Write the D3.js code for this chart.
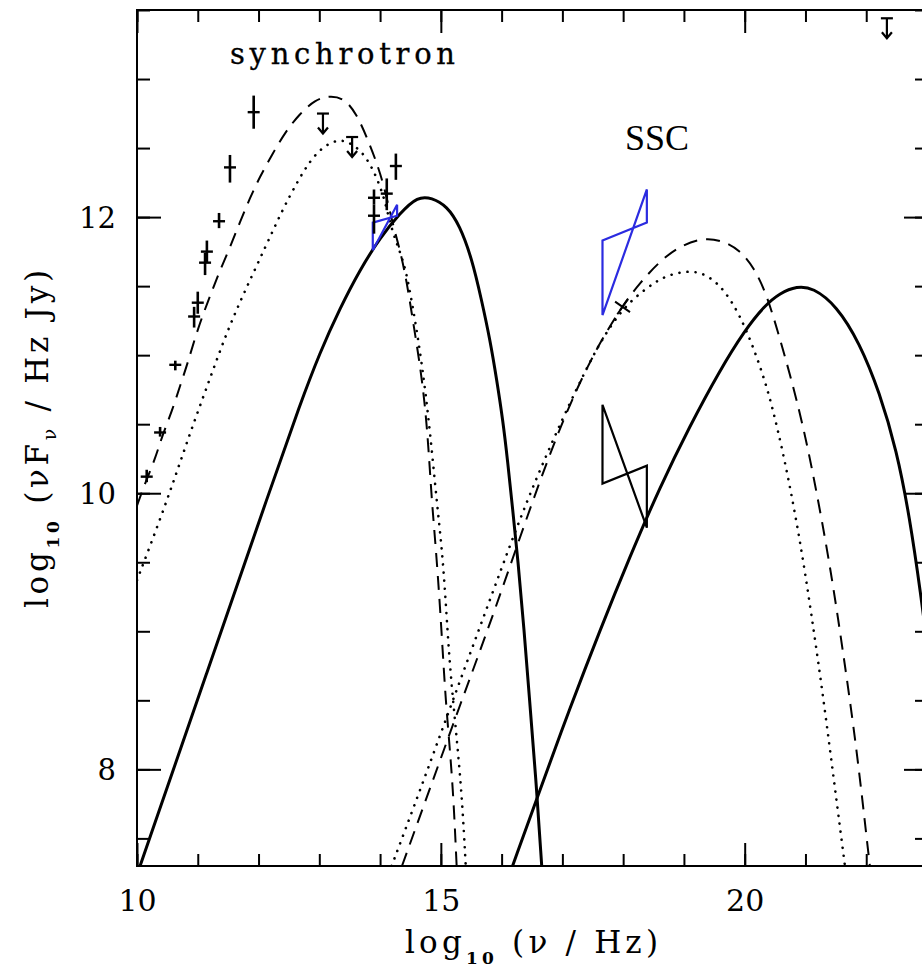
<!DOCTYPE html>
<html>
<head>
<meta charset="utf-8">
<script src="https://cdn.jsdelivr.net/npm/d3@7"></script>
<style>
  html, body { margin: 0; padding: 0; background: #fff; }
  svg { display: block; }
  .axis text { font-family: "DejaVu Serif", serif; fill: #000; }
</style>
</head>
<body>
<script>
// ---- Model spectra: [log10 nu (Hz), log10 nuFnu (Hz Jy)] ----
const synchDashed = [
  [10.00, 9.91], [10.13, 10.07], [10.30, 10.25], [10.41, 10.41], [10.58, 10.60],
  [10.71, 10.78], [10.84, 10.95], [10.95, 11.12], [11.09, 11.30], [11.23, 11.46],
  [11.37, 11.62], [11.53, 11.78], [11.69, 11.96], [11.86, 12.14], [12.02, 12.29],
  [12.22, 12.45], [12.43, 12.61], [12.68, 12.75], [12.93, 12.85], [13.17, 12.88],
  [13.42, 12.86], [13.62, 12.74], [13.78, 12.58], [13.95, 12.39], [14.08, 12.20],
  [14.19, 11.98], [14.33, 11.76], [14.44, 11.53], [14.54, 11.25], [14.65, 10.95],
  [14.74, 10.64], [14.80, 10.31], [14.85, 9.95], [14.92, 9.59], [14.98, 9.22],
  [15.03, 8.86], [15.08, 8.50], [15.15, 8.14], [15.21, 7.78], [15.26, 7.30]
];
const synchDotted = [
  [10.00, 9.37], [10.33, 9.75], [10.63, 10.12], [10.90, 10.47], [11.20, 10.83],
  [11.48, 11.17], [11.78, 11.47], [12.11, 11.78], [12.38, 12.04], [12.63, 12.25],
  [12.85, 12.41], [13.06, 12.51], [13.29, 12.56], [13.45, 12.55], [13.67, 12.49],
  [13.83, 12.39], [13.96, 12.27], [14.08, 12.12], [14.16, 11.96], [14.28, 11.80],
  [14.41, 11.65], [14.54, 11.35], [14.69, 10.94], [14.82, 10.46], [14.93, 9.95],
  [15.02, 9.59], [15.08, 9.22], [15.13, 8.86], [15.20, 8.50], [15.28, 8.14],
  [15.35, 7.78], [15.41, 7.30]
];
const synchSolid = [
  [10.05, 7.30], [11.15, 8.70], [12.24, 10.09], [12.68, 10.64], [13.01, 11.02],
  [13.34, 11.34], [13.67, 11.62], [14.00, 11.85], [14.33, 12.03], [14.62, 12.15],
  [14.85, 12.14], [15.10, 12.08], [15.31, 11.94], [15.51, 11.70], [15.67, 11.40],
  [15.81, 11.11], [15.92, 10.82], [16.02, 10.53], [16.10, 10.23], [16.18, 9.89],
  [16.27, 9.51], [16.37, 9.01], [16.46, 8.50], [16.56, 7.96], [16.66, 7.30]
];
const sscDashed = [
  [14.36, 7.30], [14.82, 7.86], [15.31, 8.46], [15.89, 9.15], [16.51, 9.95],
  [17.04, 10.57], [17.45, 10.95], [17.66, 11.12], [17.99, 11.36], [18.27, 11.52],
  [18.60, 11.68], [18.93, 11.79], [19.31, 11.85], [19.64, 11.83], [19.92, 11.76],
  [20.16, 11.63], [20.36, 11.44], [20.54, 11.18], [20.74, 10.87], [20.95, 10.51],
  [21.15, 10.09], [21.40, 9.49], [21.61, 8.88], [21.84, 8.16], [22.01, 7.49],
  [22.06, 7.30]
];
const sscDotted = [
  [14.19, 7.30], [14.66, 7.85], [15.18, 8.48], [15.81, 9.23], [16.41, 9.95],
  [17.04, 10.58], [17.45, 10.95], [17.66, 11.12], [17.99, 11.34], [18.39, 11.49],
  [18.68, 11.57], [18.93, 11.60], [19.18, 11.61], [19.42, 11.57], [19.67, 11.47],
  [19.92, 11.29], [20.16, 11.04], [20.38, 10.75], [20.54, 10.47], [20.71, 10.13],
  [20.91, 9.66], [21.10, 9.12], [21.30, 8.50], [21.48, 7.88], [21.65, 7.30]
];
const sscSolid = [
  [16.18, 7.30], [16.63, 7.85], [17.12, 8.44], [17.62, 9.01], [18.11, 9.54],
  [18.60, 10.04], [19.10, 10.49], [19.59, 10.89], [20.00, 11.18], [20.33, 11.36],
  [20.58, 11.45], [20.86, 11.50], [21.12, 11.49], [21.51, 11.36], [21.89, 11.09],
  [22.22, 10.73], [22.50, 10.31], [22.71, 9.84], [22.91, 9.23], [22.99, 8.94]
];

// ---- Observed fluxes: [log nu, log nuFnu, lower, upper] ----
const detections = [
  [11.92, 12.76, 12.64, 12.88], [11.53, 12.36, 12.25, 12.45], [11.35, 11.97, 11.92, 12.03],
  [11.15, 11.75, 11.67, 11.83], [11.12, 11.67, 11.58, 11.74], [11.00, 11.38, 11.30, 11.46],
  [10.94, 11.28, 11.20, 11.35], [10.63, 10.93, 10.89, 10.96], [10.38, 10.44, 10.41, 10.48],
  [10.16, 10.12, 10.08, 10.17], [13.90, 12.14, 12.09, 12.20], [13.90, 12.01, 11.88, 12.09],
  [14.11, 12.17, 12.05, 12.28], [14.26, 12.37, 12.27, 12.46]
];
// upper limits: [log nu, log nuFnu]
const upperLimits = [[13.06, 12.75], [13.54, 12.58], [22.34, 13.44]];
// single X-ray point
const xrayPoint = [[17.99, 11.35]];
// spectral bow-ties: [nu1, nu2, leftLow, leftHigh, rightLow, rightHigh, colour]
const bowties = [
  [13.88, 14.28, 11.76, 11.96, 12.01, 12.09, "#2b2be0"],
  [17.66, 18.39, 11.29, 11.83, 11.96, 12.20, "#2b2be0"],
  [17.66, 18.39, 10.07, 10.64, 9.75, 10.20, "#000"]
];

// ---- Axis ticks ----
const xMajor = [10, 15, 20];
const xMinor = d3.range(10, 24, 1);
const yMajor = [8, 10, 12];
const yMinor = d3.range(7.5, 13.6, 0.5);

const W = 922, H = 967;
const svg = d3.select("body").append("svg").attr("width", W).attr("height", H);

const x = d3.scaleLinear().domain([10, 23]).range([137, 927]);
const y = d3.scaleLinear().domain([7.3, 13.5]).range([866, 10]);

svg.append("clipPath").attr("id", "plotclip")
  .append("rect")
  .attr("x", x(10)).attr("y", y(13.5))
  .attr("width", x(23) - x(10)).attr("height", y(7.3) - y(13.5));

// ---- Axes (ticks point inward on all four sides) ----
function styleAxis(g) {
  g.select(".domain").remove();
  g.selectAll("line").attr("stroke", "#000").attr("stroke-width", 2);
}
const labelSizeX = 30, labelSizeY = 29;

svg.append("g").attr("class", "axis").attr("transform", `translate(0,${y(7.3)})`)
  .call(d3.axisBottom(x).tickValues(xMinor).tickSize(-12).tickFormat(""))
  .call(styleAxis);
svg.append("g").attr("class", "axis").attr("transform", `translate(0,${y(7.3)})`)
  .call(d3.axisBottom(x).tickValues(xMajor).tickSize(-23).tickPadding(24).tickFormat(d3.format("d")))
  .call(styleAxis)
  .selectAll("text").attr("font-size", labelSizeX);

svg.append("g").attr("class", "axis").attr("transform", `translate(0,${y(13.5)})`)
  .call(d3.axisTop(x).tickValues(xMinor).tickSize(-12).tickFormat(""))
  .call(styleAxis);
svg.append("g").attr("class", "axis").attr("transform", `translate(0,${y(13.5)})`)
  .call(d3.axisTop(x).tickValues(xMajor).tickSize(-23).tickFormat(""))
  .call(styleAxis);

svg.append("g").attr("class", "axis").attr("transform", `translate(${x(10)},0)`)
  .call(d3.axisLeft(y).tickValues(yMinor).tickSize(-13).tickFormat(""))
  .call(styleAxis);
svg.append("g").attr("class", "axis").attr("transform", `translate(${x(10)},0)`)
  .call(d3.axisLeft(y).tickValues(yMajor).tickSize(-24).tickPadding(21).tickFormat(d3.format("d")))
  .call(styleAxis)
  .selectAll("text").attr("font-size", labelSizeY).attr("dy", "0.36em");

svg.append("g").attr("class", "axis").attr("transform", `translate(${x(23)},0)`)
  .call(d3.axisRight(y).tickValues(yMinor).tickSize(-12).tickFormat(""))
  .call(styleAxis);
svg.append("g").attr("class", "axis").attr("transform", `translate(${x(23)},0)`)
  .call(d3.axisRight(y).tickValues(yMajor).tickSize(-23).tickFormat(""))
  .call(styleAxis);

// frame
svg.append("rect")
  .attr("x", x(10)).attr("y", y(13.5))
  .attr("width", x(23) - x(10)).attr("height", y(7.3) - y(13.5))
  .attr("fill", "none").attr("stroke", "#000").attr("stroke-width", 2);

// ---- Model curves ----
const plot = svg.append("g").attr("clip-path", "url(#plotclip)");
const line = d3.line().x(d => x(d[0])).y(d => y(d[1])).curve(d3.curveBasis);

const solidStyle = { width: 3, dash: null, cap: "butt" };
const dashStyle = { width: 2, dash: "14,9", cap: "butt" };
const dotStyle = { width: 2.6, dash: "0.1,8", cap: "round" };

[[synchSolid, solidStyle], [synchDashed, dashStyle], [synchDotted, dotStyle],
 [sscSolid, solidStyle], [sscDashed, dashStyle], [sscDotted, dotStyle]].forEach(([data, s]) => {
  plot.append("path").datum(data)
    .attr("d", line)
    .attr("fill", "none")
    .attr("stroke", "#000")
    .attr("stroke-width", s.width)
    .attr("stroke-linecap", s.cap)
    .attr("stroke-dasharray", s.dash);
});

// ---- Bow-ties ----
plot.selectAll("path.bowtie").data(bowties).join("path")
  .attr("class", "bowtie")
  .attr("d", d => "M" + [
      [x(d[0]), y(d[3])], [x(d[0]), y(d[2])], [x(d[1]), y(d[5])], [x(d[1]), y(d[4])]
    ].map(p => p.join(",")).join("L") + "Z")
  .attr("fill", "none")
  .attr("stroke", d => d[6])
  .attr("stroke-width", 2.2)
  .attr("stroke-linejoin", "miter");

// ---- Detections with vertical error bars ----
const capHalf = 6;
const det = plot.selectAll("g.det").data(detections).join("g").attr("class", "det");
det.append("line")
  .attr("x1", d => x(d[0])).attr("x2", d => x(d[0]))
  .attr("y1", d => y(d[3])).attr("y2", d => y(d[2]))
  .attr("stroke", "#000").attr("stroke-width", 2.6);
det.append("line")
  .attr("x1", d => x(d[0]) - capHalf).attr("x2", d => x(d[0]) + capHalf)
  .attr("y1", d => y(d[1])).attr("y2", d => y(d[1]))
  .attr("stroke", "#000").attr("stroke-width", 2.4);

// ---- Upper limits ----
const ul = plot.selectAll("g.ul").data(upperLimits).join("g").attr("class", "ul");
ul.append("line")
  .attr("x1", d => x(d[0]) - 6).attr("x2", d => x(d[0]) + 6)
  .attr("y1", d => y(d[1])).attr("y2", d => y(d[1]))
  .attr("stroke", "#000").attr("stroke-width", 2.2);
ul.append("line")
  .attr("x1", d => x(d[0])).attr("x2", d => x(d[0]))
  .attr("y1", d => y(d[1])).attr("y2", d => y(d[1]) + 20)
  .attr("stroke", "#000").attr("stroke-width", 2.2);
ul.append("path")
  .attr("d", d => `M${x(d[0]) - 5},${y(d[1]) + 14}L${x(d[0])},${y(d[1]) + 20}L${x(d[0]) + 5},${y(d[1]) + 14}`)
  .attr("fill", "none").attr("stroke", "#000").attr("stroke-width", 2.2);

// ---- X-ray point ----
plot.selectAll("path.xray").data(xrayPoint).join("path")
  .attr("class", "xray")
  .attr("transform", d => `translate(${x(d[0])},${y(d[1])}) rotate(-10)`)
  .attr("d", d3.symbol(d3.symbolTimes, 110))
  .attr("fill", "none").attr("stroke", "#000").attr("stroke-width", 2);

// ---- Component labels ----
svg.append("text")
  .attr("x", 230).attr("y", 64)
  .attr("font-family", "DejaVu Serif").attr("font-size", 29)
  .attr("stroke", "#000").attr("stroke-width", 0.3)
  .attr("textLength", 225).attr("lengthAdjust", "spacing")
  .text("synchrotron");
svg.append("text")
  .attr("x", 625).attr("y", 150)
  .attr("font-family", "Liberation Serif").attr("font-size", 36)
  .attr("textLength", 64).attr("lengthAdjust", "spacingAndGlyphs")
  .text("SSC");

// ---- Axis titles ----
const xt = svg.append("text")
  .attr("x", 405).attr("y", 953)
  .attr("font-family", "DejaVu Serif").attr("font-size", 31)
  .attr("textLength", 253).attr("lengthAdjust", "spacing");
xt.append("tspan").text("log");
xt.append("tspan").attr("font-size", 17).attr("font-weight", "bold").attr("dy", 11).text("10");
xt.append("tspan").attr("dy", -11).text(" (ν / Hz)");

const yt = svg.append("text")
  .attr("transform", "translate(48,608) rotate(-90)")
  .attr("font-family", "DejaVu Serif").attr("font-size", 31)
  .attr("textLength", 338).attr("lengthAdjust", "spacing");
yt.append("tspan").text("log");
yt.append("tspan").attr("font-size", 17).attr("font-weight", "bold").attr("dy", 11).text("10");
yt.append("tspan").attr("dy", -11).text(" (νF");
yt.append("tspan").attr("font-size", 19).attr("dy", 8).text("ν");
yt.append("tspan").attr("dy", -8).text(" / Hz Jy)");
</script>
</body>
</html>
